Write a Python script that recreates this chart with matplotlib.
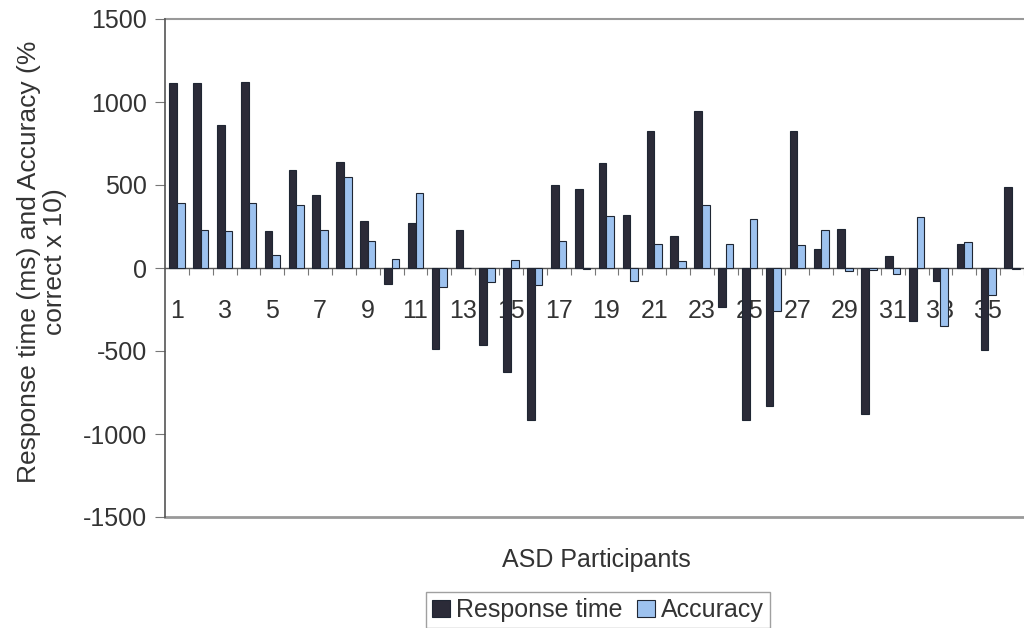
"""Bar chart of response time and accuracy differences for 36 ASD participants."""

import matplotlib.pyplot as plt
import numpy as np

plt.rcParams["font.family"] = ["Liberation Sans", "DejaVu Sans"]
plt.rcParams["axes.unicode_minus"] = False

# Participant numbers and the two series.
participants = list(range(1, 37))
response_time = [
    1114, 1114, 859, 1120, 221, 592, 441, 638, 281, -95,
    271, -488, 231, -462, -629, -918, 498, 478, 632, 319,
    823, 191, 948, -237, -918, -834, 823, 116, 237, -880,
    70, -317, -77, 144, -492, 488,
]
accuracy = [
    391, 231, 221, 391, 76, 381, 231, 546, 160, 56,
    452, -117, 0, -87, 50, -105, 160, -8, 315, -81,
    146, 40, 381, 144, 297, -261, 136, 227, -16, -12,
    -34, 307, -352, 154, -161, -8,
]
tick_labels = [str(n) for n in participants if n % 2 == 1]

FIG_SIZE = (10.24, 6.28)
DPI = 100
DARK_COLOR = "#2b2b38"
LIGHT_COLOR = "#9dc2ef"
EDGE_COLOR = "#1f2633"
TEXT_COLOR = "#333333"
FONT_SIZE = 18
BAR_WIDTH = 0.32

fig = plt.figure(figsize=FIG_SIZE, dpi=DPI)
ax = fig.add_axes([165 / 1024, 1 - 517 / 628, 1 - 165 / 1024, (517 - 19) / 628])

x = np.array(participants)
ax.bar(x - BAR_WIDTH / 2, response_time, width=BAR_WIDTH, color=DARK_COLOR,
       edgecolor=EDGE_COLOR, linewidth=0.8, label="Response time", zorder=3)
ax.bar(x + BAR_WIDTH / 2, accuracy, width=BAR_WIDTH, color=LIGHT_COLOR,
       edgecolor=EDGE_COLOR, linewidth=0.8, label="Accuracy", zorder=3)

# Axis limits: the right side of the plot area is cut off in the original.
ax.set_xlim(0.5, 36.29)
ax.set_ylim(-1500, 1500)

# Category axis sits on the zero line.
for side in ("top", "right"):
    ax.spines[side].set_visible(False)
ax.spines["bottom"].set_position(("data", 0))
ax.spines["bottom"].set_color("#555555")
ax.spines["bottom"].set_linewidth(1.0)
ax.spines["left"].set_color("#555555")
ax.spines["left"].set_linewidth(1.2)

# Plot area border lines at top and bottom.
ax.axhline(1500, color="#999999", linewidth=1.5, clip_on=False, zorder=1)
ax.axhline(-1500, color="#999999", linewidth=2.0, clip_on=False, zorder=1)

ax.set_xticks(np.arange(1.5, 37, 1.0))
ax.set_xticklabels([])
ax.set_xticks([n for n in participants if n % 2 == 1], minor=True)
ax.set_xticklabels(tick_labels, minor=True)
ax.tick_params(axis="x", which="major", direction="out", length=5,
               color="#777777")
ax.tick_params(axis="x", which="minor", length=0, pad=22,
               labelsize=FONT_SIZE, labelcolor=TEXT_COLOR)

ax.set_yticks(range(-1500, 1501, 500))
ax.tick_params(axis="y", direction="out", length=7, color="#777777",
               labelsize=FONT_SIZE, labelcolor=TEXT_COLOR, pad=6)

fig.text(42 / 1024, 1 - 262 / 628,
         "Response time (ms) and Accuracy (%\ncorrect x 10)",
         rotation=90, ha="center", va="center", fontsize=19,
         color=TEXT_COLOR, linespacing=1.1)
fig.text(596 / 1024, 1 - 560 / 628, "ASD Participants", ha="center",
         va="center", fontsize=FONT_SIZE, color=TEXT_COLOR)

handles, labels = ax.get_legend_handles_labels()
leg = fig.legend(handles, labels, loc="center", ncol=2,
                 bbox_to_anchor=(598 / 1024, 1 - 610 / 628),
                 fontsize=FONT_SIZE, frameon=True, fancybox=False,
                 handlelength=0.7, handleheight=0.7, handletextpad=0.25,
                 columnspacing=0.6, borderpad=0.25, borderaxespad=0)
leg.get_frame().set_edgecolor("#888888")
leg.get_frame().set_linewidth(1.0)
for text in leg.get_texts():
    text.set_color(TEXT_COLOR)

fig.savefig("out.png", dpi=DPI, facecolor="white")
